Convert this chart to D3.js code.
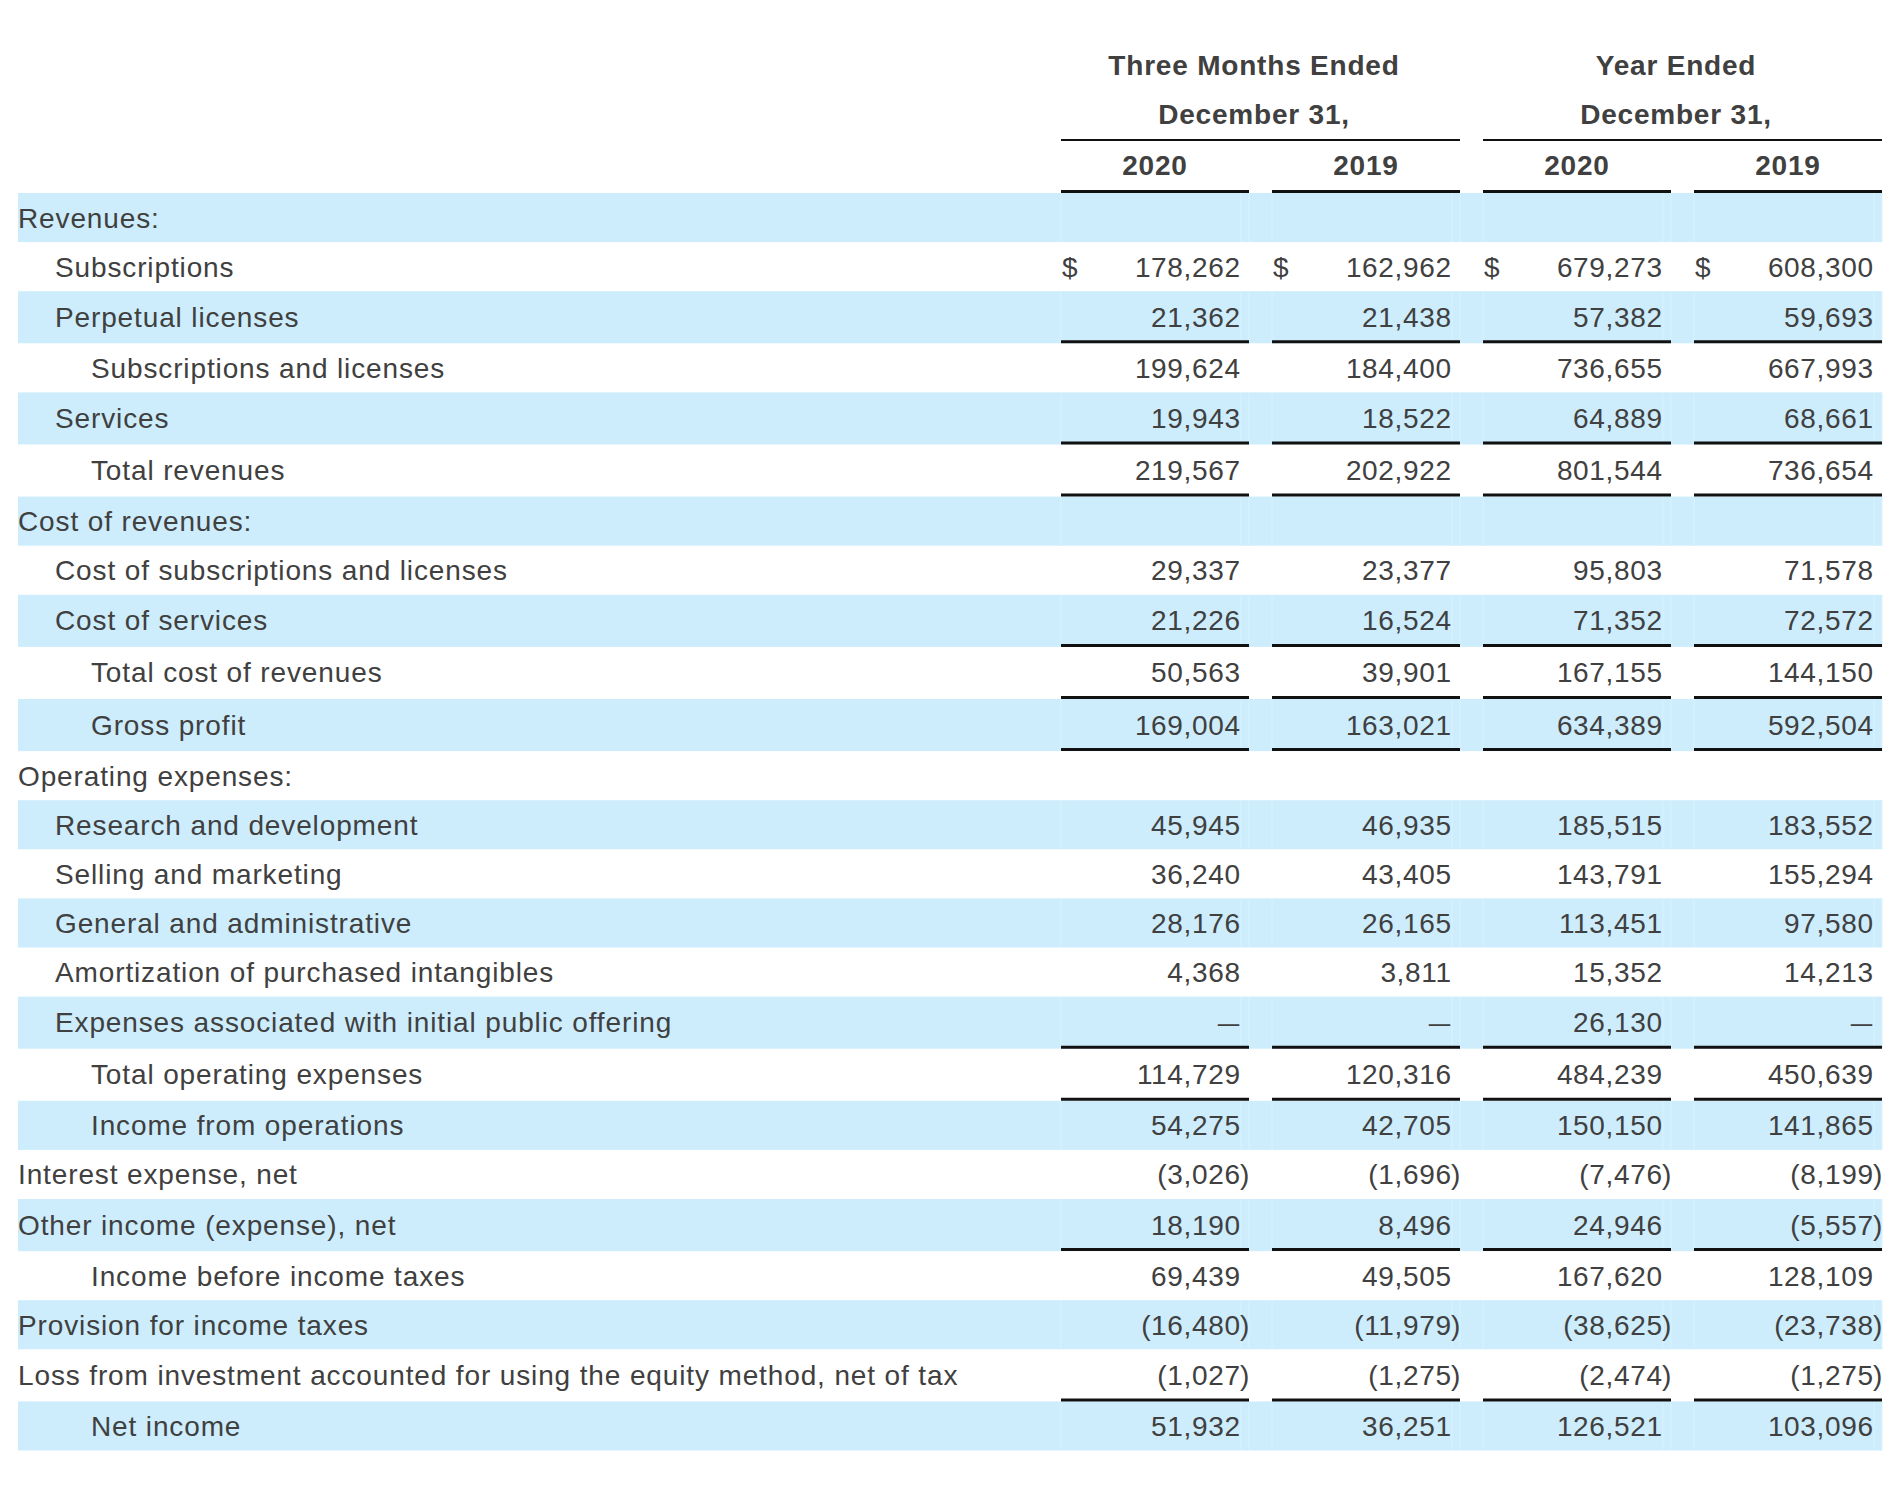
<!DOCTYPE html>
<html>
<head>
<meta charset="utf-8">
<script src="https://cdn.jsdelivr.net/npm/d3@7"></script>
<style>
  html, body { margin: 0; padding: 0; background: #fff; }
  svg { display: block; }
  text { font-family: "Liberation Sans", Arial, Helvetica, sans-serif; fill: #404040; }
</style>
</head>
<body>
<svg id="chart" width="1900" height="1500"></svg>
<script>
// ---------- DATA ----------
const rowLabels = [
  "Revenues:", "Subscriptions", "Perpetual licenses", "Subscriptions and licenses", "Services",
  "Total revenues", "Cost of revenues:", "Cost of subscriptions and licenses", "Cost of services",
  "Total cost of revenues", "Gross profit", "Operating expenses:", "Research and development",
  "Selling and marketing", "General and administrative", "Amortization of purchased intangibles",
  "Expenses associated with initial public offering", "Total operating expenses",
  "Income from operations", "Interest expense, net", "Other income (expense), net",
  "Income before income taxes", "Provision for income taxes",
  "Loss from investment accounted for using the equity method, net of tax", "Net income"
];
const rowIndent = [0,1,1,2,1,2,0,1,1,2,2,0,1,1,1,1,1,2,2,0,0,2,0,0,2];
const rowUnderlined = [
  "Perpetual licenses", "Services", "Total revenues", "Cost of services", "Total cost of revenues",
  "Gross profit", "Expenses associated with initial public offering", "Total operating expenses",
  "Other income (expense), net", "Loss from investment accounted for using the equity method, net of tax"
];
const rowDollar = ["Subscriptions"];

const q4_2020 = [null,178262,21362,199624,19943,219567,null,29337,21226,50563,169004,null,45945,36240,28176,4368,0,114729,54275,-3026,18190,69439,-16480,-1027,51932];
const q4_2019 = [null,162962,21438,184400,18522,202922,null,23377,16524,39901,163021,null,46935,43405,26165,3811,0,120316,42705,-1696,8496,49505,-11979,-1275,36251];
const fy_2020 = [null,679273,57382,736655,64889,801544,null,95803,71352,167155,634389,null,185515,143791,113451,15352,26130,484239,150150,-7476,24946,167620,-38625,-2474,126521];
const fy_2019 = [null,608300,59693,667993,68661,736654,null,71578,72572,144150,592504,null,183552,155294,97580,14213,0,450639,141865,-8199,-5557,128109,-23738,-1275,103096];

const columnKeys = ["q4_2020", "q4_2019", "fy_2020", "fy_2019"];
const columnYears = ["2020", "2019", "2020", "2019"];
const groupTitles = ["Three Months Ended", "Year Ended"];
const groupSubtitles = ["December 31,", "December 31,"];

// ---------- LAYOUT ----------
const svg = d3.select("#chart");
const tableLeft = 18, tableRight = 1882;
const colStart = 1061;
const rowTop = 193, baseRowH = 49.1, ulExtra = 3;
const indentX = [18, 55, 91];
const LS = 0.65;       // letter spacing for numbers
const LS_LABEL = 0.87; // letter spacing for row labels

const series = [q4_2020, q4_2019, fy_2020, fy_2019];

const x = d3.scaleBand().domain(columnKeys).range([colStart, tableRight]).paddingInner(0.109).paddingOuter(0);
const bw = x.bandwidth();

const heights = rowLabels.map(l => baseRowH + (rowUnderlined.includes(l) ? ulExtra : 0));
const tops = [rowTop, ...d3.cumsum(heights).map(c => rowTop + c)].slice(0, rowLabels.length);
const rows = rowLabels.map((l, i) => ({ label: l, i, top: tops[i], h: heights[i], indent: rowIndent[i],
  ul: rowUnderlined.includes(l), dollar: rowDollar.includes(l) }));

const fmt = d3.format(",");

// stripes
svg.append("g").selectAll("rect").data(rows.filter(r => r.i % 2 === 0)).join("rect")
  .attr("x", tableLeft).attr("y", r => r.top).attr("width", tableRight - tableLeft).attr("height", r => r.h)
  .attr("fill", "#cdedfd");

// faint cell seams in stripes
const seamG = svg.append("g");
rows.filter(r => r.i % 2 === 0).forEach(r => {
  columnKeys.forEach(k => {
    [x(k), x(k) + bw - 8, x(k) + bw].forEach(sx => {
      seamG.append("line").attr("x1", sx).attr("x2", sx).attr("y1", r.top).attr("y2", r.top + r.h)
        .attr("stroke", "#d9f2fe").attr("stroke-width", 1);
    });
  });
});

// header
const groupCenters = [ (x(columnKeys[0]) + x(columnKeys[1]) + bw) / 2 - 6.5,
                       (x(columnKeys[2]) + x(columnKeys[3]) + bw) / 2 - 6.5 ];
const hdr = svg.append("g").attr("font-weight", "bold").attr("font-size", 28).attr("text-anchor", "middle")
  .attr("letter-spacing", 0.8);
hdr.selectAll("text.t").data(groupTitles).join("text").attr("class", "t")
  .attr("x", (d, i) => groupCenters[i]).attr("y", 75).text(d => d);
hdr.selectAll("text.s").data(groupSubtitles).join("text").attr("class", "s")
  .attr("x", (d, i) => groupCenters[i]).attr("y", 124).text(d => d);
hdr.selectAll("text.y").data(columnYears).join("text").attr("class", "y")
  .attr("x", (d, i) => x(columnKeys[i]) + bw / 2).attr("y", 175).text(d => d);

// header lines
svg.append("g").selectAll("line").data([[0,1],[2,3]]).join("line")
  .attr("x1", d => x(columnKeys[d[0]])).attr("x2", d => x(columnKeys[d[1]]) + bw)
  .attr("y1", 140).attr("y2", 140).attr("stroke", "#111").attr("stroke-width", 2);
svg.append("g").selectAll("line").data(columnKeys).join("line")
  .attr("x1", k => x(k)).attr("x2", k => x(k) + bw)
  .attr("y1", 191.5).attr("y2", 191.5).attr("stroke", "#111").attr("stroke-width", 3);

// labels
const textY = r => r.top + (r.h - (r.ul ? ulExtra : 0)) / 2 + 10 + (r.ul ? 1 : 0);
svg.append("g").attr("font-size", 28).attr("letter-spacing", LS_LABEL).selectAll("text").data(rows).join("text")
  .attr("x", r => indentX[r.indent]).attr("y", textY)
  .text(r => r.label);

// values
const valG = svg.append("g").attr("font-size", 28).attr("letter-spacing", LS);
rows.forEach(r => {
  const cy = textY(r);
  columnKeys.forEach((k, ci) => {
    const v = series[ci][r.i];
    const right = x(k) + bw - 9 + LS;
    if (r.dollar) {
      valG.append("text").attr("x", x(k) + 1).attr("y", cy).text("$");
    }
    if (v === null) return;
    if (v === 0) {
      valG.append("text").attr("x", right - 23).attr("y", cy).attr("textLength", 22)
        .attr("lengthAdjust", "spacingAndGlyphs").text("\u2014");
    } else if (v < 0) {
      valG.append("text").attr("x", right).attr("y", cy).attr("text-anchor", "end").text("(" + fmt(-v));
      valG.append("text").attr("x", right - LS).attr("y", cy).text(")");
    } else {
      valG.append("text").attr("x", right).attr("y", cy).attr("text-anchor", "end").text(fmt(v));
    }
  });
  if (r.ul) {
    columnKeys.forEach(k => {
      valG.append("line").attr("x1", x(k)).attr("x2", x(k) + bw)
        .attr("y1", r.top + r.h - 1.5).attr("y2", r.top + r.h - 1.5)
        .attr("stroke", "#111").attr("stroke-width", 3);
    });
  }
});
</script>
</body>
</html>
